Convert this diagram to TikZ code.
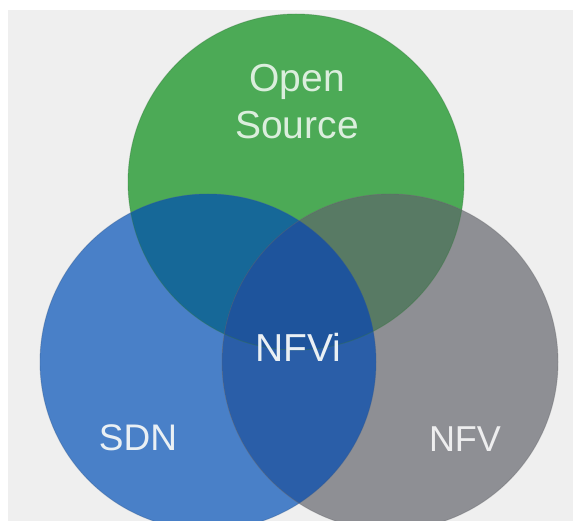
\documentclass[tikz,border=0pt]{standalone}
\usepackage{fontspec}
\setmainfont{Liberation Sans}
\definecolor{bgc}{HTML}{EFEFEF}
\definecolor{osgreen}{HTML}{4CAA56}
\definecolor{sdnblue}{HTML}{4980C8}
\definecolor{nfvgrey}{HTML}{8E8F94}
\definecolor{bluegreen}{HTML}{166898}
\definecolor{greengrey}{HTML}{587A64}
\definecolor{bluegrey}{HTML}{2A5EA8}
\definecolor{core}{HTML}{1E549C}
\definecolor{labelc}{HTML}{EAF0F4}
\tikzset{
  setlabel/.style={text=labelc, inner sep=0pt, anchor=base,
    font=\fontsize{39}{46}\selectfont},
  rim/.style={line width=0.9pt, opacity=0.35}
}
\begin{document}
\begin{tikzpicture}[x=1pt,y=-1pt]
  \useasboundingbox (0,0) rectangle (573,521);
  \fill[white] (0,0) rectangle (573,521);
  \clip (0,0) rectangle (573,521);
  \fill[bgc] (8,10) rectangle (573,521);

  % circle centres
  \coordinate (cg) at (296,182);
  \coordinate (cb) at (208,362);
  \coordinate (cn) at (390,362);
  \def\R{168}

  % plain discs
  \fill[osgreen] (cg) circle[radius=\R];
  \fill[sdnblue] (cb) circle[radius=\R];
  \fill[nfvgrey] (cn) circle[radius=\R];

  % pairwise overlaps
  \begin{scope}
    \clip (cg) circle[radius=\R];
    \fill[bluegreen] (cb) circle[radius=\R];
  \end{scope}
  \begin{scope}
    \clip (cg) circle[radius=\R];
    \fill[greengrey] (cn) circle[radius=\R];
  \end{scope}
  \begin{scope}
    \clip (cb) circle[radius=\R];
    \fill[bluegrey] (cn) circle[radius=\R];
  \end{scope}
  % centre of all three
  \begin{scope}
    \clip (cg) circle[radius=\R];
    \clip (cb) circle[radius=\R];
    \fill[core] (cn) circle[radius=\R];
  \end{scope}

  % soft rims
  \draw[rim, draw=osgreen!70!black] (cg) circle[radius=\R];
  \draw[rim, draw=sdnblue!70!black] (cb) circle[radius=\R];
  \draw[rim, draw=nfvgrey!70!black] (cn) circle[radius=\R];

  % labels
  \node[setlabel, text=osgreen!20!white] (open) at (297,92) {Open};
  \node[setlabel, text=osgreen!20!white] (source) at (297,139) {Source};
  \node[setlabel] (nfvi) at (298,361) {NFVi};
  \node[setlabel, font=\fontsize{37}{44}\selectfont] (sdn) at (138,450) {SDN};
  \node[setlabel, font=\fontsize{36}{43}\selectfont, text=nfvgrey!15!white] (nfv) at (465,451) {NFV};
\end{tikzpicture}
\end{document}
